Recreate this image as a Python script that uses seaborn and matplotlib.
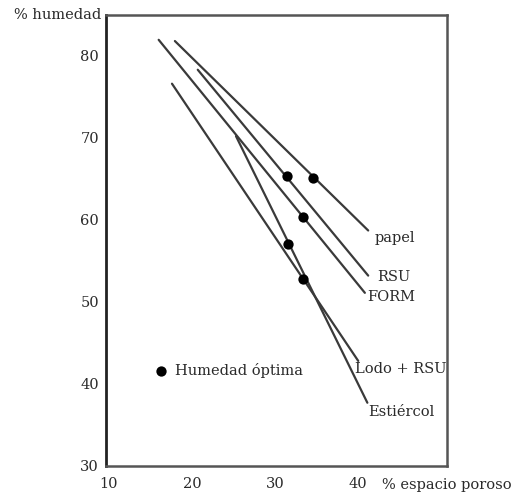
import matplotlib
matplotlib.use("Agg")
import matplotlib.pyplot as plt
import seaborn as sns
import pandas as pd

# ---- data ----
materials = ["papel", "RSU", "FORM", "Lodo + RSU", "Estiércol"]
x_start = [17.95, 20.7, 16.0, 17.6, 25.3]
y_start = [81.8, 78.3, 81.95, 76.6, 70.2]
x_end = [41.2, 41.2, 40.8, 40.0, 41.1]
y_end = [58.7, 53.2, 51.1, 42.8, 37.7]
opt_x = [34.6, 31.45, 33.4, 33.4, 31.6]
opt_y = [65.1, 65.3, 60.4, 52.8, 57.0]
legend_x = [16.3]
legend_y = [41.6]
legend_text = "Humedad óptima"
x_ticks = [10, 20, 30, 40]
y_ticks = [30, 40, 50, 60, 70, 80]
x_label = "% espacio poroso"
y_label = "% humedad"

# label anchor positions (left edge, vertical centre)
label_x = [42.0, 42.3, 41.1, 39.6, 41.2]
label_y = [57.8, 53.0, 50.6, 41.8, 36.6]

lines_df = pd.DataFrame({
    "material": [m for m in materials for _ in range(2)],
    "x": [v for pair in zip(x_start, x_end) for v in pair],
    "y": [v for pair in zip(y_start, y_end) for v in pair],
})
opt_df = pd.DataFrame({"material": materials, "x": opt_x, "y": opt_y})

sns.set_style("white")
plt.rcParams["font.family"] = ["DejaVu Serif", "Liberation Serif"]

fig = plt.figure(figsize=(5.14, 4.93), dpi=100)
ax = fig.add_axes([0.206, 0.055, 0.664, 0.915])

line_color = "#3a3a3a"
sns.lineplot(data=lines_df, x="x", y="y", units="material", estimator=None,
             color=line_color, linewidth=1.6, sort=False, ax=ax, legend=False)
sns.scatterplot(data=opt_df, x="x", y="y", color="black", s=55,
                edgecolor="black", linewidth=0, ax=ax, legend=False, zorder=5)
sns.scatterplot(x=legend_x, y=legend_y, color="black", s=55,
                edgecolor="black", linewidth=0, ax=ax, legend=False, zorder=5)

fs = 10.5
tc = "#2a2a2a"
for name, lx, ly in zip(materials, label_x, label_y):
    ax.text(lx, ly, name, ha="left", va="center", fontsize=fs, color=tc)
ax.text(legend_x[0] + 1.7, legend_y[0], legend_text, ha="left", va="center",
        fontsize=fs, color=tc)

ax.set_xlim(9.65, 50.7)
ax.set_ylim(30, 85.0)
ax.set_xticks(x_ticks)
ax.set_yticks(y_ticks)
ax.set_xticklabels([str(t) for t in x_ticks], fontsize=fs, color=tc)
ax.set_yticklabels([str(t) for t in y_ticks], fontsize=fs, color=tc)
ax.tick_params(axis="y", direction="in", length=8, width=1.3, pad=5,
               color="#333333")
ax.tick_params(axis="x", length=0, pad=8)
ax.set_xlabel("")
ax.set_ylabel("")

for side, sp in ax.spines.items():
    sp.set_visible(True)
    sp.set_color("#555555")
    sp.set_linewidth(1.8)
ax.spines["left"].set_color("#222222")
ax.spines["left"].set_linewidth(2.0)

ax.annotate(x_label, xy=(1.0, 0.0), xycoords="axes fraction",
            xytext=(0, -13.5), textcoords="offset points",
            ha="center", va="center", fontsize=fs, color=tc)
ax.text(-0.015, 1.0, y_label, transform=ax.transAxes, ha="right", va="center",
        fontsize=fs, color=tc)

fig.savefig("out.png", dpi=100, facecolor="white")
